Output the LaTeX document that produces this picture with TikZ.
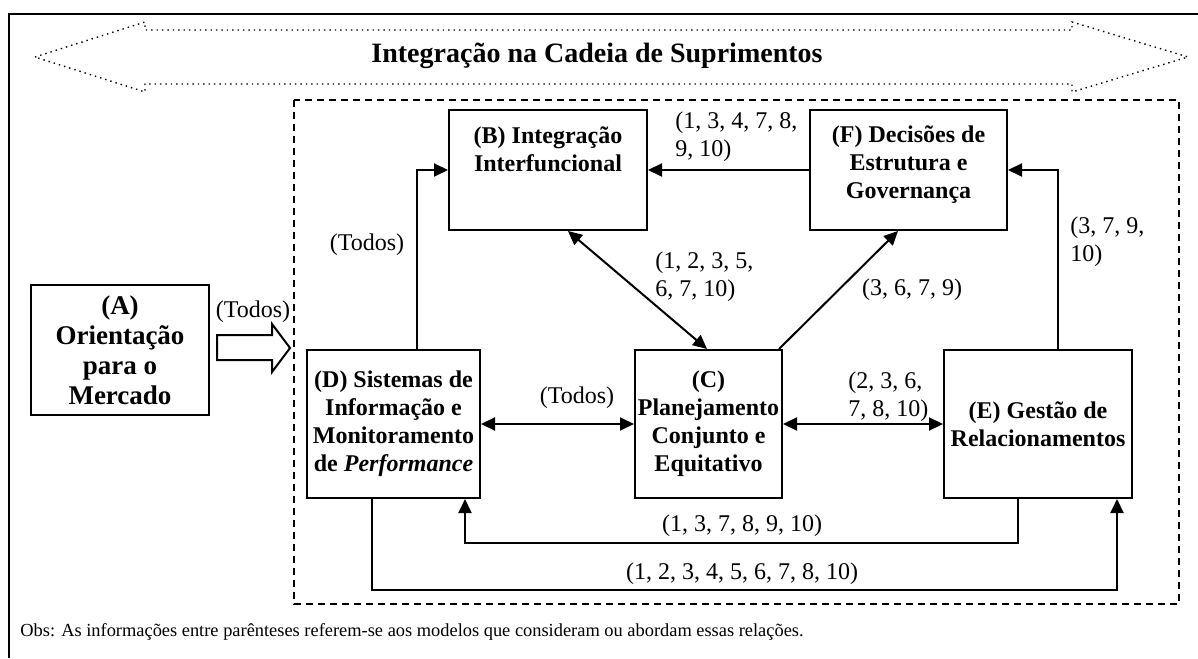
\documentclass[tikz,border=0pt]{standalone}
\usepackage{fontspec}
\setmainfont{Liberation Serif}
\usetikzlibrary{arrows.meta,calc}

\begin{document}
\begin{tikzpicture}[x=0.5pt,y=-0.5pt,
  every node/.style={font=\fontsize{12}{13.8}\selectfont},
  caixa/.style={draw,line width=1pt,inner sep=0pt},
  negrito/.style={font=\fontsize{12}{14}\selectfont\bfseries,align=center},
  rotulo/.style={align=left,inner sep=0pt},
  seta/.style={line width=1pt,-{Triangle[length=7pt,width=6.5pt]}},
  setas/.style={line width=1pt,{Triangle[length=7pt,width=6.5pt]}-{Triangle[length=7pt,width=6.5pt]}}]
\useasboundingbox (0,0) rectangle (1198,658);
% moldura
\draw[line width=1pt] (9,658) -- (9,14) -- (1198,14);
% seta dupla pontilhada
\draw[dotted,line width=0.7pt] (35,57) -- (145,22) -- (145,30) -- (1072,30) -- (1072,22)
  -- (1188,57) -- (1072,92) -- (1072,84) -- (145,84) -- (145,92) -- cycle;
\node[font=\fontsize{14}{16}\selectfont\bfseries] (tit) at (597,56) {Integração na Cadeia de Suprimentos};
% area tracejada
\draw[line width=1pt,dash pattern=on 3.5pt off 2.5pt] (294,100) rectangle (1179,604);
% (A) e seta vazada
\node[caixa,minimum width=89pt,minimum height=65pt,negrito,font=\fontsize{13.5}{15}\selectfont\bfseries] (A) at (120,350)
  {(A)\\Orientação\\para o\\Mercado};
\draw[line width=1pt] (217,335) -- (272,335) -- (272,324) -- (290,348) -- (272,372) -- (272,360) -- (217,360) -- cycle;
\node (lbA) at (253,312) {(Todos)};
% caixas
\node[caixa,minimum width=99pt,minimum height=60pt] (B) at (548,170) {};
\node[negrito] (Bt) at (548,149) {(B) Integração\\Interfuncional};
\node[caixa,minimum width=98.5pt,minimum height=60pt] (F) at (908.5,170) {};
\node[negrito] (Ft) at (908.5,165) {(F) Decisões de\\Estrutura e\\Governança};
\node[caixa,minimum width=86.5pt,minimum height=74pt] (D) at (393.5,424) {};
\node[negrito] (Dt) at (393.5,424) {(D) Sistemas de\\Informação e\\Monitoramento\\de \textit{Performance}};
\node[caixa,minimum width=73.5pt,minimum height=74pt] (C) at (708.5,424) {};
\node[negrito] (Ct) at (708.5,424) {(C)\\Planejamento\\Conjunto e\\Equitativo};
\node[caixa,minimum width=94pt,minimum height=74pt] (E) at (1038,424) {};
\node[negrito] (Et) at (1038,424) {(E) Gestão de\\Relacionamentos};
% ligacoes
\draw[seta] (F.west) -- (B.east);
\node[rotulo,anchor=west] (lbFB) at (675,137) {(1, 3, 4, 7, 8,\\9, 10)};
\draw[seta] ($(D.north)+(23.5,0)$) |- (B.west);
\node (lbDB) at (367,245) {(Todos)};
\draw[setas] ($(B.south)+(20,0)$) -- ($(C.north)+(-1.5,0)$);
\node[rotulo,anchor=west] (lbBC) at (655,277) {(1, 2, 3, 5,\\6, 7, 10)};
\draw[seta] ($(C.north east)+(-4,0)$) -- ($(F.south)+(-10.5,0)$);
\node (lbCF) at (912,290) {(3, 6, 7, 9)};
\draw[seta] ($(E.north)+(20,0)$) |- (F.east);
\node[rotulo,anchor=west] (lbEF) at (1070,242) {(3, 7, 9,\\10)};
\draw[setas] (D.east) -- (C.west);
\node (lbDC) at (577,398) {(Todos)};
\draw[setas] (C.east) -- (E.west);
\node[rotulo,anchor=west] (lbCE) at (848,397) {(2, 3, 6,\\7, 8, 10)};
\coordinate (in1) at (465,543);
\draw[seta] ($(E.south)+(-20,0)$) |- (in1) -- (in1 |- D.south);
\node (lbED) at (742,526) {(1, 3, 7, 8, 9, 10)};
\coordinate (out1) at (372,590);
\draw[seta] ($(D.south)+(-21.5,0)$) -- (out1) -| ($(E.south)+(79,0)$);
\node (lbDE) at (742,574) {(1, 2, 3, 4, 5, 6, 7, 8, 10)};
% nota
\node[anchor=west,inner sep=0pt,font=\fontsize{9.2}{11}\selectfont] (obs) at (20,632)
  {Obs: As informações entre parênteses referem-se aos modelos que consideram ou abordam essas relações.};
\end{tikzpicture}
\end{document}
